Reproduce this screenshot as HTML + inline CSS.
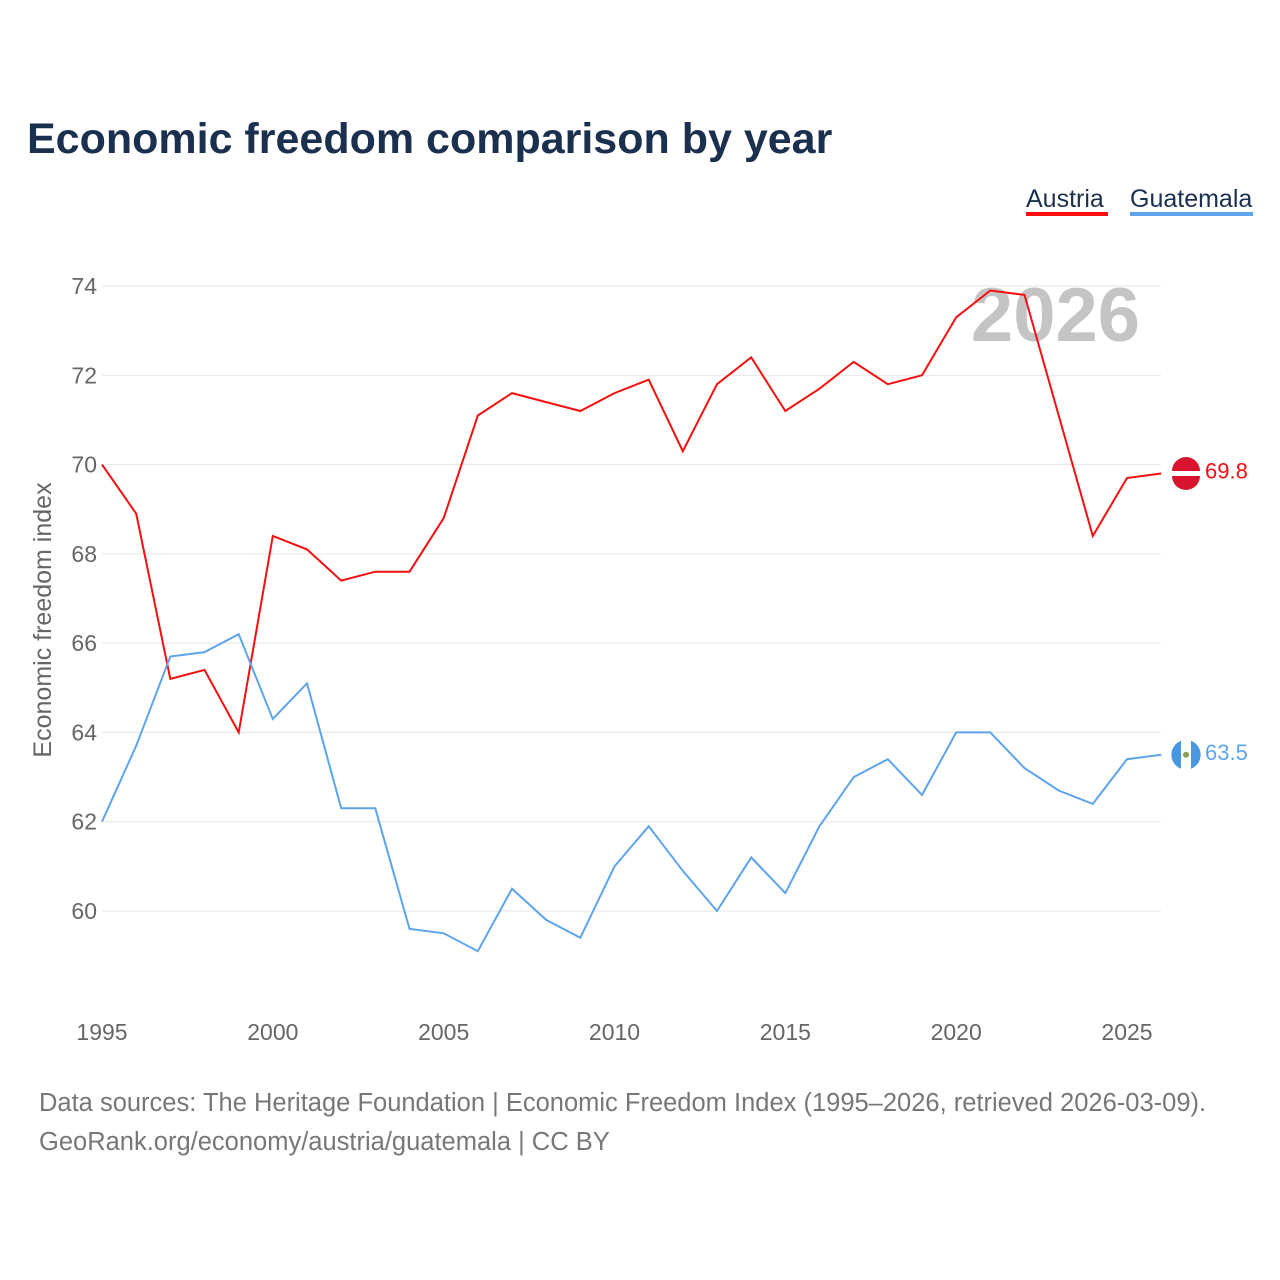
<!DOCTYPE html>
<html><head><meta charset="utf-8"><style>
body{margin:0;background:#fff;font-family:"Liberation Sans",sans-serif;}
#wrap{position:relative;width:1280px;height:1280px;overflow:hidden;}
</style></head><body>
<div id="wrap">
<svg id="chart" width="1280" height="1280"></svg>
</div>
<script>
const years=[1995,1996,1997,1998,1999,2000,2001,2002,2003,2004,2005,2006,2007,2008,2009,2010,2011,2012,2013,2014,2015,2016,2017,2018,2019,2020,2021,2022,2023,2024,2025,2026];
const austria=[70.0,68.9,65.2,65.4,64.0,68.4,68.1,67.4,67.6,67.6,68.8,71.1,71.6,71.4,71.2,71.6,71.9,70.3,71.8,72.4,71.2,71.7,72.3,71.8,72.0,73.3,73.9,73.8,71.1,68.4,69.7,69.8];
const guatemala=[62.0,63.7,65.7,65.8,66.2,64.3,65.1,62.3,62.3,59.6,59.5,59.1,60.5,59.8,59.4,61.0,61.9,60.9,60.0,61.2,60.4,61.9,63.0,63.4,62.6,64.0,64.0,63.2,62.7,62.4,63.4,63.5];
const yTicks=[60,62,64,66,68,70,72,74];
const xTicks=[1995,2000,2005,2010,2015,2020,2025];

const NS="http://www.w3.org/2000/svg";
const svg=document.getElementById('chart');
const X=y=>102+(y-1995)*(1127-102)/30;
const Y=v=>911-(v-60)*(911-286)/14;
function mk(tag,attrs,text){const e=document.createElementNS(NS,tag);for(const k in attrs)e.setAttribute(k,attrs[k]);if(text!==undefined)e.textContent=text;svg.appendChild(e);return e;}

let t=mk('text',{x:27,y:153,'font-size':43,'font-weight':'bold',fill:'#1b2f4e'},'Economic freedom comparison by year');



yTicks.forEach(v=>{
  let l=mk('line',{x1:102,x2:1161,y1:Y(v),y2:Y(v),stroke:'#e6e6e6','stroke-width':1});
  
  
  let tx=mk('text',{x:97,y:Y(v)+8,'font-size':23,fill:'#666','text-anchor':'end'},v);
  
  
});
xTicks.forEach(v=>{
  let tx=mk('text',{x:X(v),y:1040,'font-size':23,fill:'#666','text-anchor':'middle'},v);
  
  
});
let yt=mk('text',{x:0,y:0,'font-size':25,fill:'#666','text-anchor':'middle',transform:'translate(51,620) rotate(-90)'},'Economic freedom index');



let yr=mk('text',{x:1140,y:341,'font-size':76,'font-weight':'bold',fill:'#c4c4c4','text-anchor':'end'},'2026');



function series(vals,color,name){
  const d=vals.map((v,i)=>(i?'L':'M')+X(years[i]).toFixed(1)+','+Y(v).toFixed(1)).join(' ');
  let p=mk('path',{d:d,fill:'none',stroke:color,'stroke-width':2});
  
  
  const last=vals[vals.length-1];
  let c=mk('circle',{cx:1186,cy:Y(last),r:15,fill:'#fff'});
  
  
  let lab=mk('text',{x:1205,y:Y(last)+5,'font-size':22,fill:color},last.toFixed(1));
  
  
}
series(austria,'#f50f0f','austria');
series(guatemala,'#5ea4ec','guatemala');
const ay=Y(austria[austria.length-1]);
let f1=mk('path',{d:`M1172,${ay-2.5} A14,14 0 0 1 1200,${ay-2.5} Z M1172,${ay+2.5} A14,14 0 0 0 1200,${ay+2.5} Z`,fill:'#d8132e'});


const gy=Y(guatemala[guatemala.length-1]);
let f2=mk('path',{d:`M1181,${gy-14} A15,15 0 0 0 1181,${gy+14} Z M1191,${gy-14} A15,15 0 0 1 1191,${gy+14} Z`,fill:'#4997e0'});


let f3=mk('circle',{cx:1186,cy:gy,r:3,fill:'#8a9a5b'});



[['Austria',1026,1108,'#f50f0f'],['Guatemala',1130,1253,'#5ea4ec']].forEach(([n,x1,x2,c])=>{
  let tx=mk('text',{x:x1,y:207,'font-size':25,fill:'#1b2f4e'},n);
  
  
  let r=mk('rect',{x:x1,y:212,width:x2-x1,height:4,fill:c});
  
  
});

let s1=mk('text',{x:39,y:1111,'font-size':25.5,fill:'#777'},'Data sources: The Heritage Foundation | Economic Freedom Index (1995–2026, retrieved 2026-03-09).');


let s2=mk('text',{x:39,y:1150,'font-size':25.5,fill:'#777'},'GeoRank.org/economy/austria/guatemala | CC BY');


</script>
</body></html>
